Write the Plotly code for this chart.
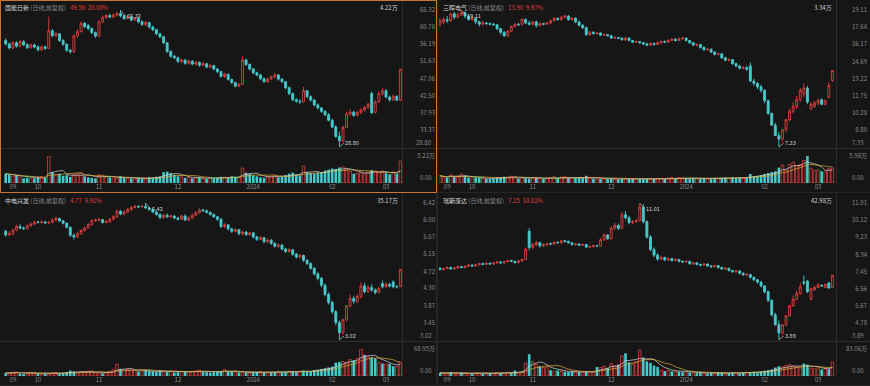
import plotly.graph_objects as go

W, H = 870, 386
BG = "#161616"
RED = "#e0403d"
TEAL = "#48c9cd"
GRAY = "#8a8a8a"
FONT = "Noto Sans CJK SC, Noto Sans, sans-serif"

# ---------------- data ----------------
month_labels = ["09", "10", "11", "12", "2024", "02", "03"]
month_idx = [2, 9, 26, 48, 69, 91, 106]

# 国能日新
gny_open = [57.2,56.3,55.2,56.6,55.7,56.9,56.1,55.3,56.0,55.5,
            54.7,55.5,55.1,59.8,58.5,59.0,57.2,56.2,54.6,54.2,
            58.4,59.6,61.8,61.2,60.4,59.3,58.4,62.2,63.4,63.9,
            63.5,64.0,64.4,63.8,63.1,63.5,62.7,63.1,62.2,61.5,
            62.0,60.8,60.1,59.0,58.2,56.6,54.3,53.0,52.6,51.6,
            52.0,51.1,51.7,50.9,51.4,50.6,51.0,50.1,50.5,49.6,
            48.9,47.6,48.2,46.8,46.0,45.0,45.5,52.0,50.8,49.6,
            48.6,48.0,47.0,46.2,46.9,47.5,48.0,46.9,46.2,44.6,
            43.0,41.4,41.0,40.8,43.8,42.2,41.3,40.0,39.2,38.3,
            37.4,35.9,34.1,31.6,30.4,34.0,37.6,38.1,37.2,38.0,
            38.6,39.3,43.0,38.0,40.8,43.0,43.8,42.1,41.3,42.3,41.3]
gny_close = [56.3,55.2,56.6,55.7,56.9,56.1,55.3,56.0,55.5,54.7,
             55.5,55.1,59.8,58.5,59.0,57.2,56.2,54.6,54.2,58.4,
             59.6,61.8,60.9,60.4,59.3,58.4,62.2,63.4,63.9,63.5,
             64.0,64.4,63.8,63.1,63.5,62.7,63.1,62.2,61.5,62.0,
             60.8,60.1,59.0,58.2,56.6,54.3,53.0,52.6,51.6,52.0,
             51.1,51.7,50.9,51.4,50.6,51.0,50.1,50.5,49.6,48.9,
             47.6,48.2,46.8,46.0,45.0,45.5,52.0,50.8,49.6,48.6,
             48.0,47.0,46.2,46.9,47.5,48.0,46.9,46.2,44.6,43.0,
             41.4,41.0,40.8,43.8,42.2,41.3,40.0,39.2,38.3,37.4,
             35.9,34.1,31.6,30.4,34.0,37.6,38.1,37.2,38.0,38.6,
             39.3,40.1,37.9,40.8,43.0,43.8,42.1,41.3,42.3,41.3,49.56]
gny_high = [57.8,56.7,57.1,57.0,57.4,57.3,56.5,56.4,56.4,55.9,
            55.9,55.9,63.6,60.3,59.5,59.2,57.6,56.5,55.0,58.9,
            60.2,62.3,62.1,61.6,60.7,59.6,62.6,63.9,64.3,64.4,
            64.5,65.0,65.32,64.1,63.9,63.8,63.5,63.4,62.6,62.4,
            62.2,61.2,60.4,59.3,58.5,56.8,54.6,53.4,52.9,52.4,
            52.2,52.1,52.0,51.8,51.6,51.5,51.2,51.0,50.7,49.9,
            49.1,48.6,48.4,47.1,46.2,45.9,52.9,52.4,51.1,49.9,
            48.9,48.3,47.3,47.3,47.9,48.5,48.2,47.2,46.4,44.9,
            43.3,41.8,41.5,44.8,44.0,42.6,41.6,40.4,39.5,38.6,
            37.8,36.3,34.6,32.8,34.4,38.2,38.9,38.4,38.4,39.1,
            39.8,40.6,43.6,41.2,43.6,44.6,44.2,42.5,42.8,42.6,49.56]
gny_low = [55.9,54.8,54.9,55.3,55.4,55.7,54.9,55.0,55.1,54.3,
           54.4,54.7,54.9,58.0,58.1,56.8,55.8,54.2,53.7,53.9,
           58.0,59.3,60.5,60.0,58.9,57.9,58.1,61.9,63.0,63.1,
           63.2,63.6,63.4,62.7,62.8,62.3,62.4,61.8,61.1,61.0,
           60.4,59.7,58.6,57.8,56.2,53.9,52.6,52.2,51.2,51.1,
           50.7,50.8,50.6,50.5,50.2,50.3,49.8,49.8,49.2,48.5,
           47.3,47.2,46.5,45.6,44.7,44.8,45.3,50.4,49.2,48.2,
           47.6,46.6,45.9,45.9,46.6,47.1,46.5,45.9,44.2,42.6,
           41.0,40.6,40.3,40.6,41.9,40.9,39.6,38.8,37.9,37.0,
           35.6,33.8,31.2,28.8,30.0,33.8,37.0,36.8,36.9,37.6,
           38.3,38.9,37.5,37.7,40.5,42.5,41.8,40.9,41.0,41.0,41.0]
gny_vol = [1.8,1.6,1.3,1.5,1.2,0.9,1.0,0.8,0.9,1.1,1.2,1.0,
           5.22,
           2.1,1.6,1.8,1.4,1.5,1.2,
           1.6,1.8,1.9,1.3,1.1,1.0,0.9,
           1.6,1.5,1.2,1.1,
           1.0,0.9,1.3,1.0,0.8,0.9,0.8,1.0,0.9,0.8,1.1,1.0,1.2,1.3,
           2.1,2.2,1.9,1.6,
           1.3,1.2,1.0,1.1,0.9,1.0,1.1,0.9,0.8,1.0,0.9,1.0,1.2,1.1,1.0,1.3,1.2,1.1,
           2.9,
           2.0,1.8,1.5,1.3,
           1.1,1.0,1.2,1.3,1.4,1.1,1.2,1.5,
           1.8,2.0,1.6,1.5,
           3.3,
           2.1,1.9,1.8,2.0,2.1,
           2.4,2.6,2.8,2.7,
           3.0,3.1,
           2.6,2.2,1.8,1.9,2.0,1.8,2.1,
           2.5,2.3,
           2.0,2.3,1.9,1.7,2.1,1.8,
           4.22]
gny_ticks = ["65.32","60.76","56.19","51.63","47.06","42.50","37.93","33.37","28.80"]

# 三晖电气
shd_open = [17.9,18.1,18.3,18.2,18.8,18.5,18.7,18.9,18.6,18.3,
            18.4,18.1,17.9,18.0,17.95,17.9,17.85,17.5,17.2,16.9,
            17.3,17.7,17.9,17.9,18.3,18.0,17.9,18.1,17.8,17.95,
            17.9,18.0,18.2,18.4,18.3,18.5,18.6,18.3,18.4,18.1,
            17.8,17.6,17.0,17.2,17.1,17.15,16.95,17.0,16.9,16.7,
            16.75,16.7,16.55,16.7,16.5,16.35,16.4,16.3,16.2,16.1,
            16.25,16.15,16.3,16.4,16.35,16.5,16.6,16.5,16.65,16.7,
            16.5,16.3,16.1,16.15,15.9,15.7,15.75,15.5,15.3,15.35,
            15.0,14.8,14.85,14.5,14.3,14.1,14.15,14.3,13.0,12.8,
            12.5,12.2,11.3,10.2,9.2,8.3,8.0,8.8,9.68,10.4,
            10.8,11.4,11.9,12.4,10.6,10.8,11.1,11.4,11.0,11.6,13.05]
shd_close = [18.2,18.3,18.2,18.8,18.5,18.7,18.9,18.6,18.3,18.4,
             18.1,17.9,18.0,17.95,17.9,17.85,17.5,17.2,16.9,17.3,
             17.7,17.9,17.85,18.3,18.0,17.9,18.1,17.8,17.95,17.9,
             18.0,18.2,18.4,18.3,18.5,18.6,18.3,18.4,18.1,17.8,
             17.6,17.0,17.2,17.1,17.15,16.95,17.0,16.9,16.7,16.75,
             16.7,16.55,16.7,16.5,16.35,16.4,16.3,16.2,16.1,16.25,
             16.15,16.3,16.4,16.35,16.5,16.6,16.5,16.65,16.7,16.5,
             16.3,16.1,16.15,15.9,15.7,15.75,15.5,15.3,15.35,15.0,
             14.8,14.85,14.5,14.3,14.1,14.15,14.0,13.0,12.8,12.5,
             12.2,11.3,10.2,9.2,8.3,8.0,8.8,9.68,10.4,10.8,
             11.4,12.2,12.4,11.2,11.0,11.1,11.3,11.0,11.3,12.64,13.90]
shd_high = [18.4,18.5,18.6,18.9,18.95,18.9,19.11,19.0,18.7,18.6,
            18.5,18.2,18.2,18.1,18.05,18.0,17.9,17.6,17.3,17.4,
            17.8,18.0,18.0,18.4,18.4,18.2,18.2,18.2,18.05,18.0,
            18.1,18.3,18.5,18.5,18.6,18.7,18.7,18.5,18.5,18.2,
            17.9,17.7,17.3,17.3,17.2,17.2,17.1,17.05,17.0,16.85,
            16.8,16.75,16.8,16.75,16.55,16.5,16.45,16.35,16.3,16.35,
            16.3,16.4,16.5,16.5,16.6,16.7,16.7,16.75,16.8,16.75,
            16.55,16.35,16.25,16.2,16.0,15.85,15.8,15.6,15.45,15.4,
            15.1,14.95,14.9,14.6,14.4,14.3,14.3,14.6,13.2,12.9,
            12.7,12.3,11.4,10.3,9.4,8.6,8.8,9.68,10.6,11.2,
            11.7,12.4,12.8,12.6,11.2,11.3,11.5,11.5,11.4,12.9,13.90]
shd_low = [17.7,17.9,18.0,18.1,18.3,18.4,18.6,18.4,18.2,18.2,
           17.9,17.7,17.8,17.85,17.8,17.75,17.4,17.0,16.8,16.8,
           17.2,17.6,17.75,17.8,17.9,17.8,17.8,17.6,17.7,17.8,
           17.85,17.9,18.1,18.2,18.2,18.4,18.2,18.2,18.0,17.7,
           17.5,16.9,16.9,17.0,17.0,16.9,16.9,16.85,16.65,16.6,
           16.6,16.5,16.45,16.4,16.3,16.3,16.2,16.1,16.0,16.0,
           16.05,16.1,16.2,16.3,16.3,16.45,16.4,16.45,16.55,16.4,
           16.2,16.0,16.0,15.8,15.6,15.6,15.4,15.2,15.2,14.9,
           14.7,14.7,14.4,14.2,14.0,14.0,13.9,12.9,12.6,12.3,
           12.0,11.1,10.1,9.2,8.3,7.33,7.8,8.6,9.5,10.2,
           10.6,11.2,11.6,11.0,10.5,10.7,10.9,10.9,10.9,11.5,12.95]
shd_vol = [1.6,1.3,1.2,1.8,1.4,1.3,2.0,1.6,1.2,1.1,1.2,
           1.1,1.0,0.9,0.9,1.0,1.2,1.3,1.4,1.3,1.5,1.3,1.0,1.2,1.1,1.0,
           1.1,1.2,1.0,0.9,1.0,1.2,1.4,1.1,1.3,1.4,1.2,1.1,1.1,1.3,1.2,1.6,1.2,1.0,0.9,1.0,0.9,0.9,
           1.0,0.9,0.8,0.9,1.0,0.9,0.9,0.8,0.9,0.9,1.0,0.9,0.9,1.0,1.0,0.9,1.1,1.2,1.1,1.2,1.1,
           1.1,1.0,1.1,0.9,1.0,1.1,0.9,1.0,1.1,0.9,1.1,1.2,1.0,1.2,1.1,1.2,1.1,1.2,2.0,1.5,1.6,1.7,
           2.0,2.2,2.4,2.6,3.4,4.0,2.8,4.1,4.6,3.8,4.1,5.0,5.98,3.3,2.8,2.9,2.6,2.5,3.2,3.34]
shd_ticks = ["19.11","17.64","16.17","14.69","13.22","11.75","10.28","8.80","7.33"]

# 中电兴发
zdx_open = [5.72,5.63,5.66,5.75,5.84,5.80,5.79,5.86,5.90,5.95,
            5.94,5.95,5.93,5.94,6.00,6.04,5.98,5.92,5.82,5.62,
            5.58,5.66,5.74,5.80,5.89,5.98,6.00,6.01,5.94,5.96,
            6.02,6.08,6.22,6.15,6.20,6.26,6.31,6.34,6.33,6.34,
            6.30,6.26,6.20,6.14,6.06,6.12,6.08,6.10,6.05,6.02,
            6.10,6.00,6.05,6.12,6.18,6.25,6.23,6.19,6.14,6.08,
            6.02,5.84,5.88,5.78,5.72,5.76,5.66,5.70,5.64,5.68,
            5.58,5.52,5.56,5.46,5.50,5.42,5.35,5.38,5.28,5.22,
            5.26,5.15,5.08,5.12,5.00,4.92,4.80,4.66,4.55,4.38,
            4.15,3.95,3.72,3.45,3.20,3.52,3.87,4.05,3.98,4.10,
            4.36,4.22,4.32,4.26,4.20,4.42,4.34,4.40,4.46,4.34,4.35]
zdx_close = [5.63,5.66,5.75,5.84,5.80,5.79,5.86,5.90,5.95,5.94,
             5.95,5.93,5.94,6.00,6.04,5.98,5.92,5.82,5.62,5.58,
             5.66,5.74,5.80,5.89,5.98,6.00,6.01,5.94,5.96,6.02,
             6.08,6.22,6.15,6.20,6.26,6.31,6.34,6.33,6.34,6.30,
             6.26,6.20,6.14,6.06,6.12,6.08,6.10,6.05,6.02,6.10,
             6.00,6.05,6.12,6.18,6.25,6.23,6.19,6.14,6.08,6.02,
             5.84,5.88,5.78,5.72,5.76,5.66,5.70,5.64,5.68,5.58,
             5.52,5.56,5.46,5.50,5.42,5.35,5.38,5.28,5.22,5.26,
             5.15,5.08,5.12,5.00,4.92,4.80,4.66,4.55,4.38,4.15,
             3.95,3.72,3.45,3.20,3.52,3.87,4.05,3.98,4.10,4.36,
             4.22,4.32,4.26,4.20,4.30,4.34,4.40,4.36,4.34,4.34,4.77]
zdx_high = [5.76,5.72,5.78,5.88,5.90,5.84,5.89,5.94,5.99,5.98,
            5.99,5.98,5.97,6.04,6.08,6.06,6.00,5.94,5.84,5.66,
            5.70,5.77,5.84,5.93,6.02,6.04,6.05,6.03,6.00,6.05,
            6.12,6.27,6.25,6.24,6.30,6.35,6.38,6.37,6.38,6.42,
            6.33,6.29,6.23,6.17,6.15,6.16,6.13,6.12,6.08,6.13,
            6.14,6.09,6.16,6.22,6.29,6.28,6.26,6.21,6.16,6.10,
            6.05,5.92,5.90,5.81,5.79,5.78,5.74,5.73,5.71,5.70,
            5.61,5.60,5.58,5.54,5.52,5.45,5.42,5.40,5.31,5.30,
            5.28,5.18,5.16,5.14,5.03,4.95,4.83,4.70,4.58,4.42,
            4.20,4.00,3.76,3.50,3.55,3.87,4.15,4.12,4.16,4.45,
            4.44,4.38,4.40,4.30,4.34,4.50,4.45,4.44,4.50,4.38,4.77]
zdx_low = [5.58,5.60,5.62,5.72,5.77,5.75,5.76,5.83,5.87,5.91,
           5.91,5.90,5.90,5.92,5.97,5.95,5.89,5.79,5.58,5.52,
           5.55,5.63,5.71,5.78,5.86,5.95,5.96,5.91,5.92,5.93,
           5.99,6.05,6.12,6.12,6.17,6.22,6.29,6.30,6.31,6.28,
           6.23,6.17,6.11,6.02,6.03,6.05,6.06,6.02,5.99,6.00,
           5.98,5.97,6.03,6.10,6.16,6.21,6.16,6.11,6.05,5.98,
           5.80,5.80,5.74,5.68,5.69,5.62,5.62,5.60,5.61,5.54,
           5.48,5.49,5.42,5.43,5.38,5.31,5.31,5.24,5.18,5.19,
           5.11,5.04,5.04,4.96,4.88,4.76,4.62,4.50,4.33,4.10,
           3.90,3.66,3.38,3.02,3.15,3.48,3.82,3.92,3.94,4.05,
           4.18,4.18,4.22,4.15,4.17,4.30,4.31,4.32,4.30,4.30,4.33]
zdx_vol = [8,7,9,10,6,5,7,8,9,6,5,6,5,8,9,7,8,10,14,12,9,10,11,12,13,9,8,7,8,12,16,
           30,
           18,15,17,
           16,14,12,11,15,13,12,11,14,12,10,11,9,10,12,11,10,
           12,13,15,11,10,9,10,11,13,17,12,11,10,9,10,9,8,9,10,11,
           9,8,9,10,11,9,10,12,11,10,12,14,13,12,15,16,18,20,22,24,
           34,36,37,
           35,
           42,40,45,
           68.95,
           54,
           49,48,
           45,
           34,32,30,31,
           25,24,
           35.17]
zdx_ticks = ["6.42","6.00","5.57","5.15","4.72","4.30","3.87","3.45","3.02"]

# 瑞斯康达
rsk_open = [7.62,7.55,7.60,7.66,7.58,7.63,7.70,7.66,7.72,7.78,
            7.74,7.80,7.86,7.82,7.88,7.84,7.90,7.95,7.90,7.96,
            8.02,7.98,7.92,8.00,8.08,9.55,8.70,8.85,8.95,8.78,
            8.85,8.90,8.88,8.97,8.95,9.05,9.02,8.95,8.85,8.88,
            8.82,8.86,8.72,8.75,8.80,8.78,9.10,9.35,9.15,9.70,
            9.85,9.70,10.40,10.25,10.00,10.05,10.10,10.80,10.05,9.25,
            8.60,8.30,8.10,8.18,8.05,8.12,8.02,8.08,7.98,7.95,
            7.98,7.85,7.90,7.82,7.78,7.84,7.74,7.70,7.76,7.66,
            7.58,7.62,7.50,7.44,7.48,7.36,7.28,7.30,7.15,7.02,
            6.90,6.70,6.40,5.95,5.20,4.68,4.25,4.68,5.15,5.67,
            6.00,6.30,6.90,6.95,6.00,6.50,6.62,6.72,6.62,6.85,6.62]
rsk_close = [7.55,7.60,7.66,7.58,7.63,7.70,7.66,7.72,7.78,7.74,
             7.80,7.86,7.82,7.88,7.84,7.90,7.95,7.90,7.96,8.02,
             7.98,7.92,8.00,8.08,8.60,8.70,8.85,8.95,8.78,8.85,
             8.90,8.88,8.97,8.95,9.05,9.02,8.95,8.85,8.88,8.82,
             8.86,8.72,8.75,8.80,8.78,9.10,9.35,9.15,9.70,9.85,
             9.70,10.40,10.25,10.00,10.05,10.10,10.80,10.05,9.25,8.60,
             8.30,8.10,8.18,8.05,8.12,8.02,8.08,7.98,7.95,7.98,
             7.85,7.90,7.82,7.78,7.84,7.74,7.70,7.76,7.66,7.58,
             7.62,7.50,7.44,7.48,7.36,7.28,7.30,7.15,7.02,6.90,
             6.70,6.40,5.95,5.20,4.68,4.25,4.68,5.15,5.67,6.00,
             6.30,6.65,6.85,6.40,6.55,6.62,6.75,6.70,6.78,6.59,7.25]
rsk_high = [7.68,7.65,7.72,7.70,7.67,7.75,7.74,7.76,7.82,7.82,
            7.85,7.90,7.90,7.92,7.92,7.95,8.00,7.99,8.00,8.06,
            8.06,8.02,8.05,8.12,8.70,9.70,8.95,9.05,9.00,8.92,
            8.95,8.96,9.02,9.02,9.10,9.10,9.06,8.98,8.93,8.92,
            8.90,8.88,8.80,8.85,8.84,9.18,9.45,9.40,9.80,9.97,
            9.95,10.55,10.60,10.35,10.12,10.20,11.01,10.95,10.10,9.35,
            8.70,8.40,8.25,8.22,8.18,8.16,8.12,8.10,8.02,8.03,
            8.00,7.95,7.93,7.86,7.88,7.86,7.78,7.80,7.78,7.70,
            7.66,7.64,7.54,7.52,7.50,7.40,7.35,7.32,7.18,7.06,
            6.95,6.75,6.45,6.00,5.30,4.90,4.68,5.15,5.67,6.20,
            6.45,6.85,7.25,7.00,6.60,6.70,6.85,6.80,6.84,6.90,7.25]
rsk_low = [7.50,7.50,7.56,7.54,7.54,7.60,7.62,7.62,7.68,7.70,
           7.70,7.76,7.78,7.78,7.80,7.80,7.86,7.86,7.86,7.92,
           7.94,7.86,7.88,7.96,8.05,8.55,8.60,8.78,8.70,8.72,
           8.80,8.82,8.84,8.90,8.90,8.96,8.90,8.80,8.80,8.78,
           8.78,8.68,8.68,8.70,8.74,8.75,9.05,9.10,9.12,9.60,
           9.60,9.65,10.15,9.90,9.92,9.98,10.05,9.95,9.15,8.50,
           8.20,8.00,8.02,7.98,8.00,7.96,7.98,7.92,7.90,7.90,
           7.80,7.80,7.76,7.72,7.74,7.70,7.64,7.66,7.60,7.54,
           7.52,7.45,7.38,7.38,7.30,7.22,7.20,7.08,6.95,6.82,
           6.62,6.30,5.85,5.10,4.60,3.89,4.15,4.60,5.10,5.60,
           5.95,6.25,6.75,6.32,5.95,6.45,6.58,6.65,6.58,6.55,6.58]
rsk_vol = [10,8,9,12,7,8,10,9,8,7,9,8,7,8,9,8,10,9,8,11,9,
           17,
           12,14,
           40,67,45,35,
           30,26,28,
           18,15,17,14,
           13,12,14,11,12,13,15,12,11,
           28,26,30,24,
           38,30,35,62,70,42,36,45,80,57,45,40,
           32,28,
           18,15,17,14,16,13,
           12,10,11,9,10,12,9,8,10,9,11,10,8,9,10,9,8,10,11,12,13,12,14,16,18,
           20,
           26,30,28,32,35,30,27,25,
           38,35,
           24,22,25,20,23,21,
           42.98]
rsk_ticks = ["11.01","10.12","9.23","8.34","7.45","6.56","5.67","4.78","3.89"]

panels = [
    dict(name="国能日新", last="49.56", pct="20.00%", vnow="4.22万", vlab="5.22万",
         o=gny_open, c=gny_close, h=gny_high, l=gny_low, v=gny_vol, ticks=gny_ticks,
         left=0, top=0, width=436, x0=4, x1=402, i0=5.7, step=3.588, lab=435, sel=True),
    dict(name="三晖电气", last="13.90", pct="9.97%", vnow="3.34万", vlab="5.98万",
         o=shd_open, c=shd_close, h=shd_high, l=shd_low, v=shd_vol, ticks=shd_ticks,
         left=438, top=0, width=432, x0=439, x1=836, i0=440.0, step=3.567, lab=867, sel=False),
    dict(name="中电兴发", last="4.77", pct="9.91%", vnow="35.17万", vlab="68.95万",
         o=zdx_open, c=zdx_close, h=zdx_high, l=zdx_low, v=zdx_vol, ticks=zdx_ticks,
         left=0, top=193, width=436, x0=4, x1=402, i0=5.7, step=3.588, lab=435, sel=False),
    dict(name="瑞斯康达", last="7.25", pct="10.02%", vnow="42.98万", vlab="83.06万",
         o=rsk_open, c=rsk_close, h=rsk_high, l=rsk_low, v=rsk_vol, ticks=rsk_ticks,
         left=438, top=193, width=432, x0=439, x1=836, i0=440.0, step=3.567, lab=867, sel=False),
]


def xf(px):
    return px / W


def yf(py):
    return 1 - py / H


def moving_avg(vals, n):
    out = []
    for i in range(len(vals)):
        win = vals[max(0, i - n + 1): i + 1]
        out.append(sum(win) / len(win))
    return out


fig = go.Figure()
layout = dict(width=W, height=H, margin=dict(l=0, r=0, t=0, b=0, pad=0, autoexpand=False),
              paper_bgcolor=BG, plot_bgcolor=BG, showlegend=False,
              barmode="overlay", boxgap=0.22,
              font=dict(family=FONT, size=6, color=GRAY))
shapes = []
annotations = []
tickfont = dict(family=FONT, size=6, color=GRAY)
NB = "\u00a0"

for k, p in enumerate(panels):
    n = len(p["c"])
    for key in ("o", "h", "l", "v"):
        assert len(p[key]) == n, (p["name"], key, len(p[key]), n)
    idx = list(range(n))
    xa = "x" if k == 0 else f"x{k+1}"
    yp = "y" if k == 0 else f"y{2*k+1}"
    yv = f"y{2*k+2}"
    xkey = "xaxis" if k == 0 else f"xaxis{k+1}"
    ypkey = "yaxis" if k == 0 else f"yaxis{2*k+1}"
    yvkey = f"yaxis{2*k+2}"
    left, top, x0, x1 = p["left"], p["top"], p["x0"], p["x1"]
    r0 = (x0 - p["i0"]) / p["step"]
    r1 = (x1 - p["i0"]) / p["step"]
    tv = [float(t) for t in p["ticks"]]
    eps = (tv[0] - tv[-1]) * 0.001
    vmax = float(p["vlab"].replace("万", ""))

    fig.add_trace(go.Candlestick(
        x=idx, open=p["o"], high=p["h"], low=p["l"], close=p["c"],
        xaxis=xa, yaxis=yp, whiskerwidth=0, hoverinfo="skip",
        increasing=dict(line=dict(color=RED, width=0.9), fillcolor=BG),
        decreasing=dict(line=dict(color=TEAL, width=0.9), fillcolor=TEAL)))

    up_x = [i for i in idx if p["c"][i] >= p["o"][i]]
    dn_x = [i for i in idx if p["c"][i] < p["o"][i]]
    fig.add_trace(go.Bar(x=up_x, y=[p["v"][i] for i in up_x], width=0.72,
                         marker=dict(color=BG, line=dict(color=RED, width=0.8)),
                         xaxis=xa, yaxis=yv, hoverinfo="skip"))
    fig.add_trace(go.Bar(x=dn_x, y=[p["v"][i] for i in dn_x], width=0.72,
                         marker=dict(color=TEAL, line=dict(width=0)),
                         xaxis=xa, yaxis=yv, hoverinfo="skip"))
    fig.add_trace(go.Scatter(x=idx, y=moving_avg(p["v"], 5), mode="lines",
                             line=dict(color="#d8d8d8", width=0.7),
                             xaxis=xa, yaxis=yv, hoverinfo="skip"))
    fig.add_trace(go.Scatter(x=idx, y=moving_avg(p["v"], 10), mode="lines",
                             line=dict(color="#d9b13b", width=0.7),
                             xaxis=xa, yaxis=yv, hoverinfo="skip"))

    layout[xkey] = dict(domain=[xf(x0), xf(x1)], range=[r0, r1], anchor="free",
                        position=yf(top + 182), tickvals=month_idx, ticktext=month_labels,
                        showgrid=False, zeroline=False, showline=False, ticks="",
                        tickfont=tickfont, rangeslider=dict(visible=False),
                        automargin=False, fixedrange=True)
    # price axis: all labels but the lowest, which sits a little higher (annotation below)
    layout[ypkey] = dict(domain=[yf(top + 147), yf(top + 10)], range=[tv[-1] - eps, tv[0] + eps],
                         anchor="free", position=xf(p["lab"]), side="left",
                         tickvals=tv[:-1], ticktext=p["ticks"][:-1], showgrid=False,
                         zeroline=False, showline=False, ticks="", tickfont=tickfont,
                         automargin=False, fixedrange=True)
    layout[yvkey] = dict(domain=[yf(top + 183), yf(top + 156)], range=[0, vmax * 1.001],
                         anchor="free", position=xf(p["lab"]), side="left",
                         tickvals=[vmax], ticktext=[p["vlab"]],
                         showgrid=False, zeroline=False, showline=False, ticks="",
                         tickfont=tickfont, automargin=False, fixedrange=True)
    annotations.append(dict(xref="paper", yref=yp, x=xf(p["lab"] - 2.5), y=tv[-1], yshift=4,
                            xanchor="right", yanchor="middle", text=p["ticks"][-1],
                            showarrow=False, borderpad=0, font=tickfont))
    annotations.append(dict(xref="paper", yref=yv, x=xf(p["lab"] - 2.5), y=0, yshift=6,
                            xanchor="right", yanchor="middle", text="0.00",
                            showarrow=False, borderpad=0, font=tickfont))

    # frame lines
    shapes.append(dict(type="line", xref="paper", yref="paper",
                       x0=xf(x1 + 0.5), x1=xf(x1 + 0.5), y0=yf(top), y1=yf(top + 184),
                       line=dict(color="#2c2c2c", width=1)))
    shapes.append(dict(type="line", xref="paper", yref="paper",
                       x0=xf(left), x1=xf(left + p["width"]), y0=yf(top + 148.5), y1=yf(top + 148.5),
                       line=dict(color="#2c2c2c", width=1)))
    if not p["sel"]:
        shapes.append(dict(type="rect", xref="paper", yref="paper",
                           x0=xf(left - 0.5), x1=xf(left + p["width"] + 0.5),
                           y0=yf(top + 192.5), y1=yf(top - 0.5),
                           line=dict(color="#262626", width=1)))

    # title and current volume
    title = (f'<span style="color:#d4d4d4">{p["name"]}</span>'
             f'<span style="color:#8a8a8a">{NB}(日线,前复权)</span>'
             f'<span style="color:{RED}">{NB*3}{p["last"]}{NB*2}{p["pct"]}</span>')
    annotations.append(dict(xref="paper", yref="paper", x=xf(left + 4), y=yf(top + 7.5),
                            xanchor="left", yanchor="middle", text=title, showarrow=False,
                            borderpad=0, font=dict(family=FONT, size=6)))
    annotations.append(dict(xref="paper", yref="paper", x=xf(x1 - 3), y=yf(top + 7.5),
                            xanchor="right", yanchor="middle", text=p["vnow"], showarrow=False,
                            borderpad=0, font=dict(family=FONT, size=6, color="#cfcfcf")))

    # high / low markers
    hi = max(p["h"])
    lo = min(p["l"])
    hi_i = p["h"].index(hi)
    lo_i = p["l"].index(lo)
    annotations.append(dict(xref=xa, yref=yp, x=hi_i, y=hi, text=f"{hi:.2f}",
                            showarrow=True, arrowhead=0, arrowwidth=0.7, arrowcolor="#bbbbbb",
                            ax=5, ay=6, xanchor="left", yanchor="middle", borderpad=0,
                            font=dict(family=FONT, size=5.5, color="#d8d8d8")))
    annotations.append(dict(xref=xa, yref=yp, x=lo_i, y=lo, text=f"{lo:.2f}",
                            showarrow=True, arrowhead=0, arrowwidth=0.7, arrowcolor="#bbbbbb",
                            ax=5, ay=-4, xanchor="left", yanchor="middle", borderpad=0,
                            font=dict(family=FONT, size=5.5, color="#d8d8d8")))

# selected panel border (drawn last)
shapes.append(dict(type="rect", xref="paper", yref="paper",
                   x0=xf(0.5), x1=xf(436.5), y0=yf(192.5), y1=yf(0.5),
                   line=dict(color="#c8762f", width=1)))

layout["shapes"] = shapes
layout["annotations"] = annotations
fig.update_layout(**layout)
fig.write_html("out.html", config={"displayModeBar": False})
